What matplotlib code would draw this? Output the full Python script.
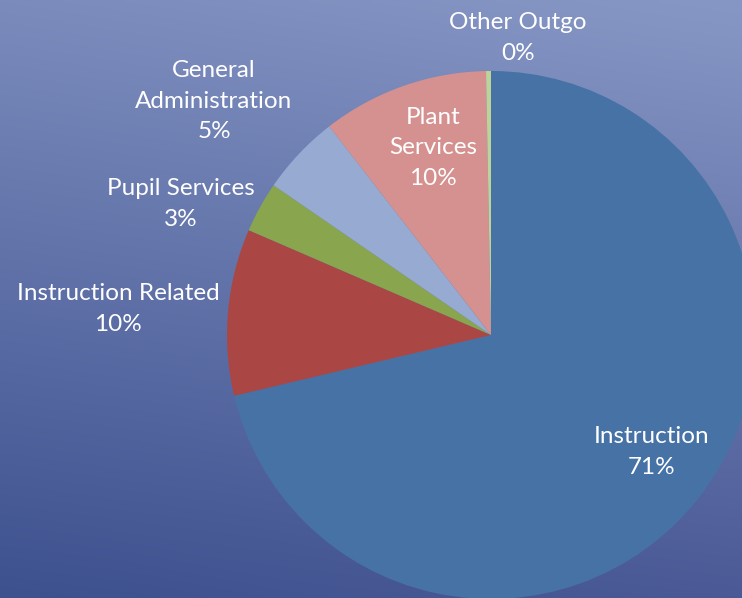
import numpy as np
import matplotlib
matplotlib.use("Agg")
import matplotlib.pyplot as plt
from matplotlib.colors import to_rgb

# data
categories = ["Instruction", "Instruction Related", "Pupil Services",
              "General\nAdministration", "Plant\nServices", "Other Outgo"]
shares = [71.3, 10.2, 3.1, 4.9, 10.2, 0.3]
colors = ["#4672A6", "#AA4744", "#89A54E", "#96AAD2", "#D4918F", "#BDD39A"]

# label anchor points (pixels from top-left)
label_pos = [(652, 452), (118, 309), (181, 204), (214, 101), (433, 148), (518, 38)]

W, H = 742, 598
plt.rcParams['font.family'] = ['Lato', 'DejaVu Sans']

fig = plt.figure(figsize=(W / 100, H / 100), dpi=100)

# gradient background from the four corner colours
tl, tr = np.array(to_rgb("#7B8BBC")), np.array(to_rgb("#8797C5"))
bl, br = np.array(to_rgb("#3D518F")), np.array(to_rgb("#4B5A96"))
yy, xx = np.mgrid[0:1:200j, 0:1:200j]
grad = ((1 - xx)[..., None] * ((1 - yy)[..., None] * tl + yy[..., None] * bl)
        + xx[..., None] * ((1 - yy)[..., None] * tr + yy[..., None] * br))
bg = fig.add_axes([0, 0, 1, 1])
bg.imshow(grad, aspect='auto', extent=[0, 1, 0, 1], origin='upper')
bg.axis('off')

ax = fig.add_axes([0, 0, 1, 1])
ax.patch.set_alpha(0)

ax.pie(shares, colors=colors, startangle=90, counterclock=False,
       center=(491, H - 335), radius=264,
       wedgeprops=dict(linewidth=0), frame=True)
ax.set_xlim(0, W)
ax.set_ylim(0, H)
ax.set_aspect('equal')
ax.axis('off')

for name, val, (x, y) in zip(categories, shares, label_pos):
    ax.text(x, H - y, f"{name}\n{val:.0f}%", color="white", fontsize=17.5,
            ha="center", va="center", linespacing=1.55)

fig.savefig("out.png", dpi=100)
